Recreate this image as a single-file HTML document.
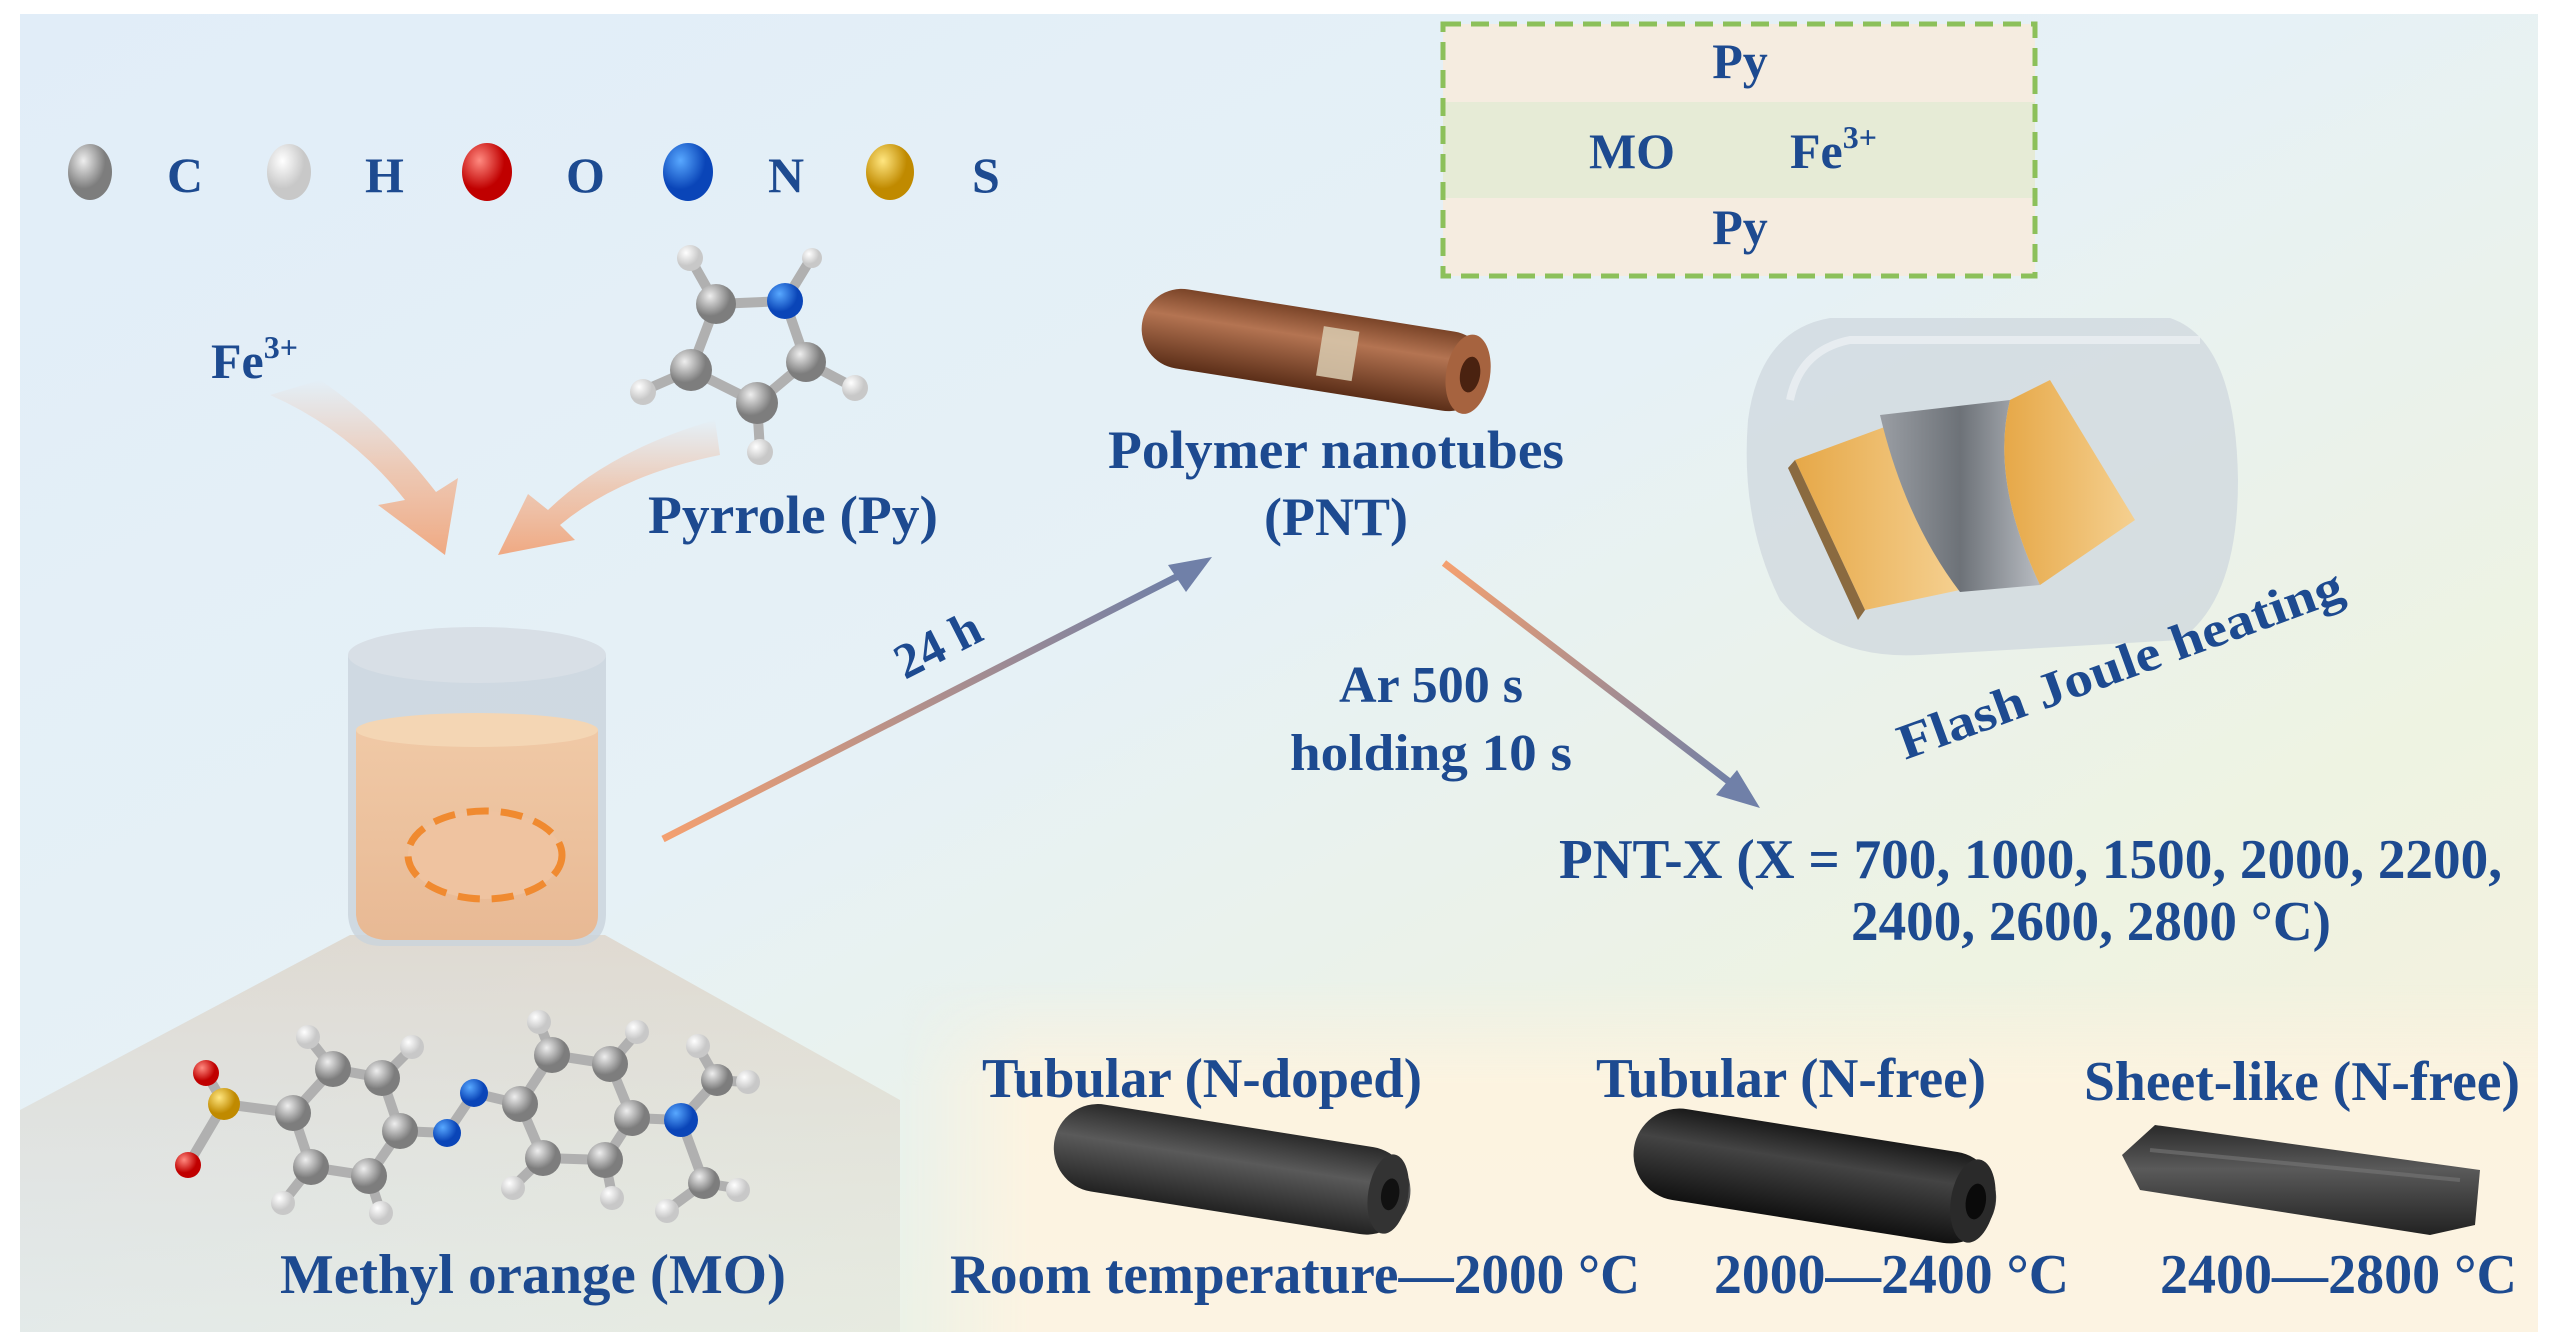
<!DOCTYPE html>
<html><head><meta charset="utf-8"><style>
html,body{margin:0;padding:0;background:#fff;}
svg{display:block;}
text{font-family:"Liberation Serif",serif;font-weight:bold;fill:#1d4a90;}
</style></head><body>
<svg width="2567" height="1339" viewBox="0 0 2567 1339" xmlns="http://www.w3.org/2000/svg">
<defs>
<linearGradient id="bg" x1="0" y1="0" x2="1" y2="1">
<stop offset="0" stop-color="#e1edf8"/><stop offset="0.45" stop-color="#e6f1f6"/><stop offset="0.75" stop-color="#eef3e2"/><stop offset="1" stop-color="#f8f1dc"/>
</linearGradient>
<linearGradient id="panel" x1="0" y1="0" x2="0" y2="1"><stop offset="0" stop-color="#fbf2df" stop-opacity="0"/><stop offset="0.3" stop-color="#fcf3e0"/><stop offset="1" stop-color="#fcf3e2"/></linearGradient>
<linearGradient id="panelL" x1="0" y1="0" x2="1" y2="0"><stop offset="0" stop-color="#fff" stop-opacity="0"/><stop offset="0.08" stop-color="#fff" stop-opacity="1"/><stop offset="1" stop-color="#fff" stop-opacity="1"/></linearGradient>
<mask id="pm"><rect x="900" y="980" width="1640" height="360" fill="url(#panelL)"/></mask>
<linearGradient id="cone" x1="0" y1="0" x2="0" y2="1"><stop offset="0" stop-color="#d9c7b4" stop-opacity="0.55"/><stop offset="1" stop-color="#d8d4cc" stop-opacity="0.25"/></linearGradient>
<linearGradient id="a1" x1="0" y1="1" x2="1" y2="0"><stop offset="0" stop-color="#f4a070"/><stop offset="1" stop-color="#6d7fa8"/></linearGradient>
<linearGradient id="a2" x1="0" y1="0" x2="1" y2="1"><stop offset="0" stop-color="#f4a070"/><stop offset="1" stop-color="#6d7fa8"/></linearGradient>
<linearGradient id="farrow" x1="0" y1="0" x2="0" y2="1"><stop offset="0" stop-color="#f3b290" stop-opacity="0"/><stop offset="0.5" stop-color="#f2b08a" stop-opacity="0.6"/><stop offset="1" stop-color="#f0a57c" stop-opacity="0.95"/></linearGradient>
<linearGradient id="brown" x1="0" y1="0" x2="0" y2="1"><stop offset="0" stop-color="#7a4428"/><stop offset="0.35" stop-color="#b47452"/><stop offset="1" stop-color="#5b2e18"/></linearGradient>
<linearGradient id="blk" x1="0" y1="0" x2="0" y2="1"><stop offset="0" stop-color="#1a1a1a"/><stop offset="0.35" stop-color="#444"/><stop offset="1" stop-color="#111"/></linearGradient>
<linearGradient id="blk2" x1="0" y1="0" x2="0" y2="1"><stop offset="0" stop-color="#2a2a2a"/><stop offset="0.4" stop-color="#5a5a5a"/><stop offset="1" stop-color="#222"/></linearGradient>
<linearGradient id="liq" x1="0" y1="0" x2="0" y2="1"><stop offset="0" stop-color="#f0c9a6"/><stop offset="1" stop-color="#e8b994"/></linearGradient>
<radialGradient id="gC" cx="0.35" cy="0.3"><stop offset="0" stop-color="#eee"/><stop offset="1" stop-color="#7d7d7d"/></radialGradient>
<radialGradient id="gH" cx="0.35" cy="0.3"><stop offset="0" stop-color="#fff"/><stop offset="1" stop-color="#c8c8c8"/></radialGradient>
<radialGradient id="gO" cx="0.35" cy="0.3"><stop offset="0" stop-color="#ff8a80"/><stop offset="1" stop-color="#c00000"/></radialGradient>
<radialGradient id="gN" cx="0.35" cy="0.3"><stop offset="0" stop-color="#58a8ff"/><stop offset="1" stop-color="#0a45b8"/></radialGradient>
<radialGradient id="gS" cx="0.35" cy="0.3"><stop offset="0" stop-color="#ffe680"/><stop offset="1" stop-color="#c08a00"/></radialGradient>
<linearGradient id="gold" x1="0" y1="0" x2="1" y2="0"><stop offset="0" stop-color="#e6a848"/><stop offset="1" stop-color="#f5d090"/></linearGradient>
<linearGradient id="gray" x1="0" y1="0" x2="1" y2="0"><stop offset="0" stop-color="#9a9ea4"/><stop offset="0.5" stop-color="#6d7278"/><stop offset="1" stop-color="#b8bcc2"/></linearGradient>
</defs>
<rect x="0" y="0" width="2567" height="1339" fill="#fff"/>
<rect x="20" y="14" width="2518" height="1318" fill="url(#bg)"/>
<rect x="900" y="980" width="1638" height="352" fill="url(#panel)" mask="url(#pm)"/>
<!-- cone under beaker -->
<path d="M350 935 L605 935 L900 1100 L900 1332 L20 1332 L20 1110 Z" fill="url(#cone)"/>

<!-- legend -->
<g>
<ellipse cx="90" cy="172" rx="22" ry="28" fill="url(#gC)"/><text x="167" y="192" font-size="50">C</text>
<ellipse cx="289" cy="172" rx="22" ry="28" fill="url(#gH)"/><text x="365" y="192" font-size="50">H</text>
<ellipse cx="487" cy="172" rx="25" ry="29" fill="url(#gO)"/><text x="566" y="192" font-size="50">O</text>
<ellipse cx="688" cy="172" rx="25" ry="29" fill="url(#gN)"/><text x="768" y="192" font-size="50">N</text>
<ellipse cx="890" cy="172" rx="24" ry="28" fill="url(#gS)"/><text x="972" y="192" font-size="50">S</text>
</g>

<!-- Fe3+ and orange arrows -->
<text x="211" y="378" font-size="50">Fe<tspan font-size="32" dy="-20">3+</tspan></text>
<path d="M270 395 Q350 430 405 500 L378 505 L445 555 L458 478 L436 492 Q380 420 320 380 Z" fill="url(#farrow)"/>
<path d="M715 420 Q610 450 548 510 L528 494 L498 555 L575 540 L560 525 Q620 475 720 455 Z" fill="url(#farrow)"/>

<!-- pyrrole -->
<g stroke="#b0b0b0" stroke-width="10" fill="none">
<path d="M716 304 L785 301 L806 362 L757 403 L691 370 Z"/>
<path d="M716 304 L690 258 M785 301 L810 260 M806 362 L855 388 M757 403 L760 450 M691 370 L645 390"/>
</g>
<circle cx="690" cy="258" r="13" fill="url(#gH)"/><circle cx="812" cy="258" r="10" fill="url(#gH)"/><circle cx="855" cy="388" r="13" fill="url(#gH)"/><circle cx="760" cy="452" r="13" fill="url(#gH)"/><circle cx="643" cy="392" r="13" fill="url(#gH)"/>
<circle cx="716" cy="304" r="20" fill="url(#gC)"/><circle cx="785" cy="301" r="18" fill="url(#gN)"/><circle cx="806" cy="362" r="20" fill="url(#gC)"/><circle cx="757" cy="403" r="21" fill="url(#gC)"/><circle cx="691" cy="370" r="21" fill="url(#gC)"/>
<text x="648" y="533" font-size="54" textLength="290" lengthAdjust="spacingAndGlyphs">Pyrrole (Py)</text>

<!-- beaker -->
<path d="M348 655 L348 915 Q350 945 380 946 L575 946 Q605 945 606 915 L606 655 Z" fill="#c9d3dc" opacity="0.8"/>
<ellipse cx="477" cy="655" rx="129" ry="28" fill="#d8dfe6"/>
<path d="M356 730 L356 915 Q358 938 385 940 L570 940 Q598 938 598 915 L598 730 Z" fill="url(#liq)"/>
<ellipse cx="477" cy="730" rx="121" ry="17" fill="#f4d6b4"/>
<ellipse cx="485" cy="855" rx="77" ry="44" fill="#efc3a0" stroke="#f08a30" stroke-width="7" stroke-dasharray="22 12"/>

<!-- MO molecule -->
<g stroke="#b0b0b0" stroke-width="10" fill="none">
<path d="M333 1069 L382 1078 L400 1131 L369 1176 L311 1167 L293 1113 Z"/>
<path d="M552 1055 L610 1064 L632 1118 L605 1160 L543 1158 L520 1104 Z"/>
<path d="M400 1131 L447 1133 L474 1093 L520 1104 M632 1118 L681 1120 L717 1080 M681 1120 L704 1183"/>
<path d="M293 1113 L224 1104 L206 1073 M224 1104 L188 1165"/>
<path d="M333 1069 L310 1040 M382 1078 L410 1050 M311 1167 L285 1200 M369 1176 L380 1210 M552 1055 L540 1025 M610 1064 L635 1035 M543 1158 L515 1185 M605 1160 L612 1195 M717 1080 L700 1050 M717 1080 L745 1082 M704 1183 L670 1208 M704 1183 L735 1188"/>
</g>
<g fill="url(#gH)">
<circle cx="308" cy="1037" r="12"/><circle cx="412" cy="1047" r="12"/><circle cx="283" cy="1203" r="12"/><circle cx="381" cy="1213" r="12"/><circle cx="539" cy="1022" r="12"/><circle cx="637" cy="1032" r="12"/><circle cx="513" cy="1188" r="12"/><circle cx="612" cy="1198" r="12"/><circle cx="698" cy="1046" r="12"/><circle cx="748" cy="1082" r="12"/><circle cx="667" cy="1211" r="12"/><circle cx="738" cy="1190" r="12"/>
</g>
<g fill="url(#gC)">
<circle cx="333" cy="1069" r="18"/><circle cx="382" cy="1078" r="18"/><circle cx="400" cy="1131" r="18"/><circle cx="369" cy="1176" r="18"/><circle cx="311" cy="1167" r="18"/><circle cx="293" cy="1113" r="18"/>
<circle cx="552" cy="1055" r="18"/><circle cx="610" cy="1064" r="18"/><circle cx="632" cy="1118" r="18"/><circle cx="605" cy="1160" r="18"/><circle cx="543" cy="1158" r="18"/><circle cx="520" cy="1104" r="18"/>
<circle cx="717" cy="1080" r="16"/><circle cx="704" cy="1183" r="16"/>
</g>
<circle cx="447" cy="1133" r="14" fill="url(#gN)"/><circle cx="474" cy="1093" r="14" fill="url(#gN)"/><circle cx="681" cy="1120" r="17" fill="url(#gN)"/>
<circle cx="224" cy="1104" r="16" fill="url(#gS)"/><circle cx="206" cy="1073" r="13" fill="url(#gO)"/><circle cx="188" cy="1165" r="13" fill="url(#gO)"/>
<text x="280" y="1293" font-size="56" textLength="506" lengthAdjust="spacingAndGlyphs">Methyl  orange (MO)</text>

<!-- arrow 24 h -->
<line x1="663" y1="839" x2="1190" y2="570" stroke="url(#a1)" stroke-width="7"/>
<path d="M1212 557 L1168 565 L1186 592 Z" fill="#7080a8"/>
<text transform="translate(905,680) rotate(-27)" font-size="50">24 h</text>

<!-- polymer nanotube -->
<g transform="rotate(9 1315 350)">
<rect x="1140" y="310" width="350" height="80" rx="40" fill="url(#brown)"/>
<ellipse cx="1470" cy="350" rx="22" ry="40" fill="#a6633f"/>
<ellipse cx="1472" cy="350" rx="10" ry="18" fill="#4a2210"/>
<rect x="1320" y="325" width="36" height="50" fill="#d9cbb0" opacity="0.85"/>
</g>
<text x="1336" y="468" font-size="54" text-anchor="middle" textLength="456" lengthAdjust="spacingAndGlyphs">Polymer nanotubes</text>
<text x="1336" y="535" font-size="54" text-anchor="middle">(PNT)</text>

<!-- green box -->
<rect x="1443" y="24" width="592" height="78" fill="#f5ece0"/>
<rect x="1443" y="102" width="592" height="96" fill="#e6ebd6"/>
<rect x="1443" y="198" width="592" height="78" fill="#f5ece0"/>
<rect x="1443" y="24" width="592" height="252" fill="none" stroke="#8cc05a" stroke-width="5" stroke-dasharray="18 10"/>
<text x="1740" y="78" font-size="50" text-anchor="middle">Py</text>
<text x="1632" y="168" font-size="50" text-anchor="middle">MO</text>
<text x="1790" y="168" font-size="50">Fe<tspan font-size="32" dy="-20">3+</tspan></text>
<text x="1740" y="244" font-size="50" text-anchor="middle">Py</text>

<!-- flash joule device -->
<path d="M1830 318 Q1760 330 1748 420 Q1740 520 1780 600 Q1830 660 1920 655 L2180 640 Q2238 600 2238 480 Q2236 340 2170 318 Z" fill="#cdd6dd" opacity="0.7"/>
<path d="M1790 400 Q1800 350 1850 340 L2200 340" fill="none" stroke="#eef2f5" stroke-width="8" opacity="0.7"/>
<path d="M1795 460 L1890 425 L1960 590 L1865 610 Z" fill="url(#gold)"/>
<path d="M1795 460 L1865 610 L1858 620 L1788 468 Z" fill="#8a6a40"/>
<path d="M1880 415 L2010 400 Q1990 480 2040 585 L1960 592 Q1905 520 1880 415 Z" fill="url(#gray)"/>
<path d="M2010 400 L2050 380 L2135 520 L2040 585 Q1990 480 2010 400 Z" fill="url(#gold)"/>
<text transform="translate(1905,760) rotate(-20)" font-size="50" textLength="470" lengthAdjust="spacingAndGlyphs">Flash Joule heating</text>

<!-- arrow 2 -->
<line x1="1444" y1="563" x2="1740" y2="790" stroke="url(#a2)" stroke-width="7"/>
<path d="M1760 808 L1716 795 L1737 770 Z" fill="#7080a8"/>
<text x="1431" y="702" font-size="52" text-anchor="middle">Ar 500 s</text>
<text x="1431" y="770" font-size="52" text-anchor="middle" textLength="282" lengthAdjust="spacingAndGlyphs">holding 10 s</text>

<text x="1559" y="878" font-size="56" textLength="943" lengthAdjust="spacingAndGlyphs">PNT-X (X = 700, 1000, 1500, 2000, 2200,</text>
<text x="1851" y="940" font-size="56" textLength="480" lengthAdjust="spacingAndGlyphs">2400, 2600, 2800 °C)</text>

<!-- bottom panel -->
<text x="982" y="1097" font-size="56" textLength="440" lengthAdjust="spacingAndGlyphs">Tubular (N-doped)</text>
<text x="1596" y="1097" font-size="56" textLength="390" lengthAdjust="spacingAndGlyphs">Tubular (N-free)</text>
<text x="2084" y="1100" font-size="56" textLength="436" lengthAdjust="spacingAndGlyphs">Sheet-like (N-free)</text>

<g transform="rotate(9 1230 1170)">
<rect x="1052" y="1125" width="360" height="88" rx="44" fill="url(#blk2)"/>
<ellipse cx="1390" cy="1169" rx="20" ry="40" fill="#333"/>
<ellipse cx="1392" cy="1169" rx="9" ry="16" fill="#111"/>
</g>
<g transform="rotate(9 1815 1175)">
<rect x="1632" y="1130" width="366" height="92" rx="46" fill="url(#blk)"/>
<ellipse cx="1975" cy="1176" rx="22" ry="42" fill="#2a2a2a"/>
<ellipse cx="1978" cy="1176" rx="10" ry="18" fill="#0a0a0a"/>
</g>
<path d="M2122 1155 L2155 1125 L2480 1170 L2475 1225 L2430 1235 L2140 1190 Z" fill="url(#blk2)"/>
<path d="M2150 1150 L2460 1180" stroke="#777" stroke-width="4" opacity="0.6"/>

<text x="950" y="1293" font-size="56" textLength="690" lengthAdjust="spacingAndGlyphs">Room temperature—2000 °C</text>
<text x="1714" y="1293" font-size="56" textLength="355" lengthAdjust="spacingAndGlyphs">2000—2400 °C</text>
<text x="2160" y="1293" font-size="56" textLength="357" lengthAdjust="spacingAndGlyphs">2400—2800 °C</text>
</svg>
</body></html>
